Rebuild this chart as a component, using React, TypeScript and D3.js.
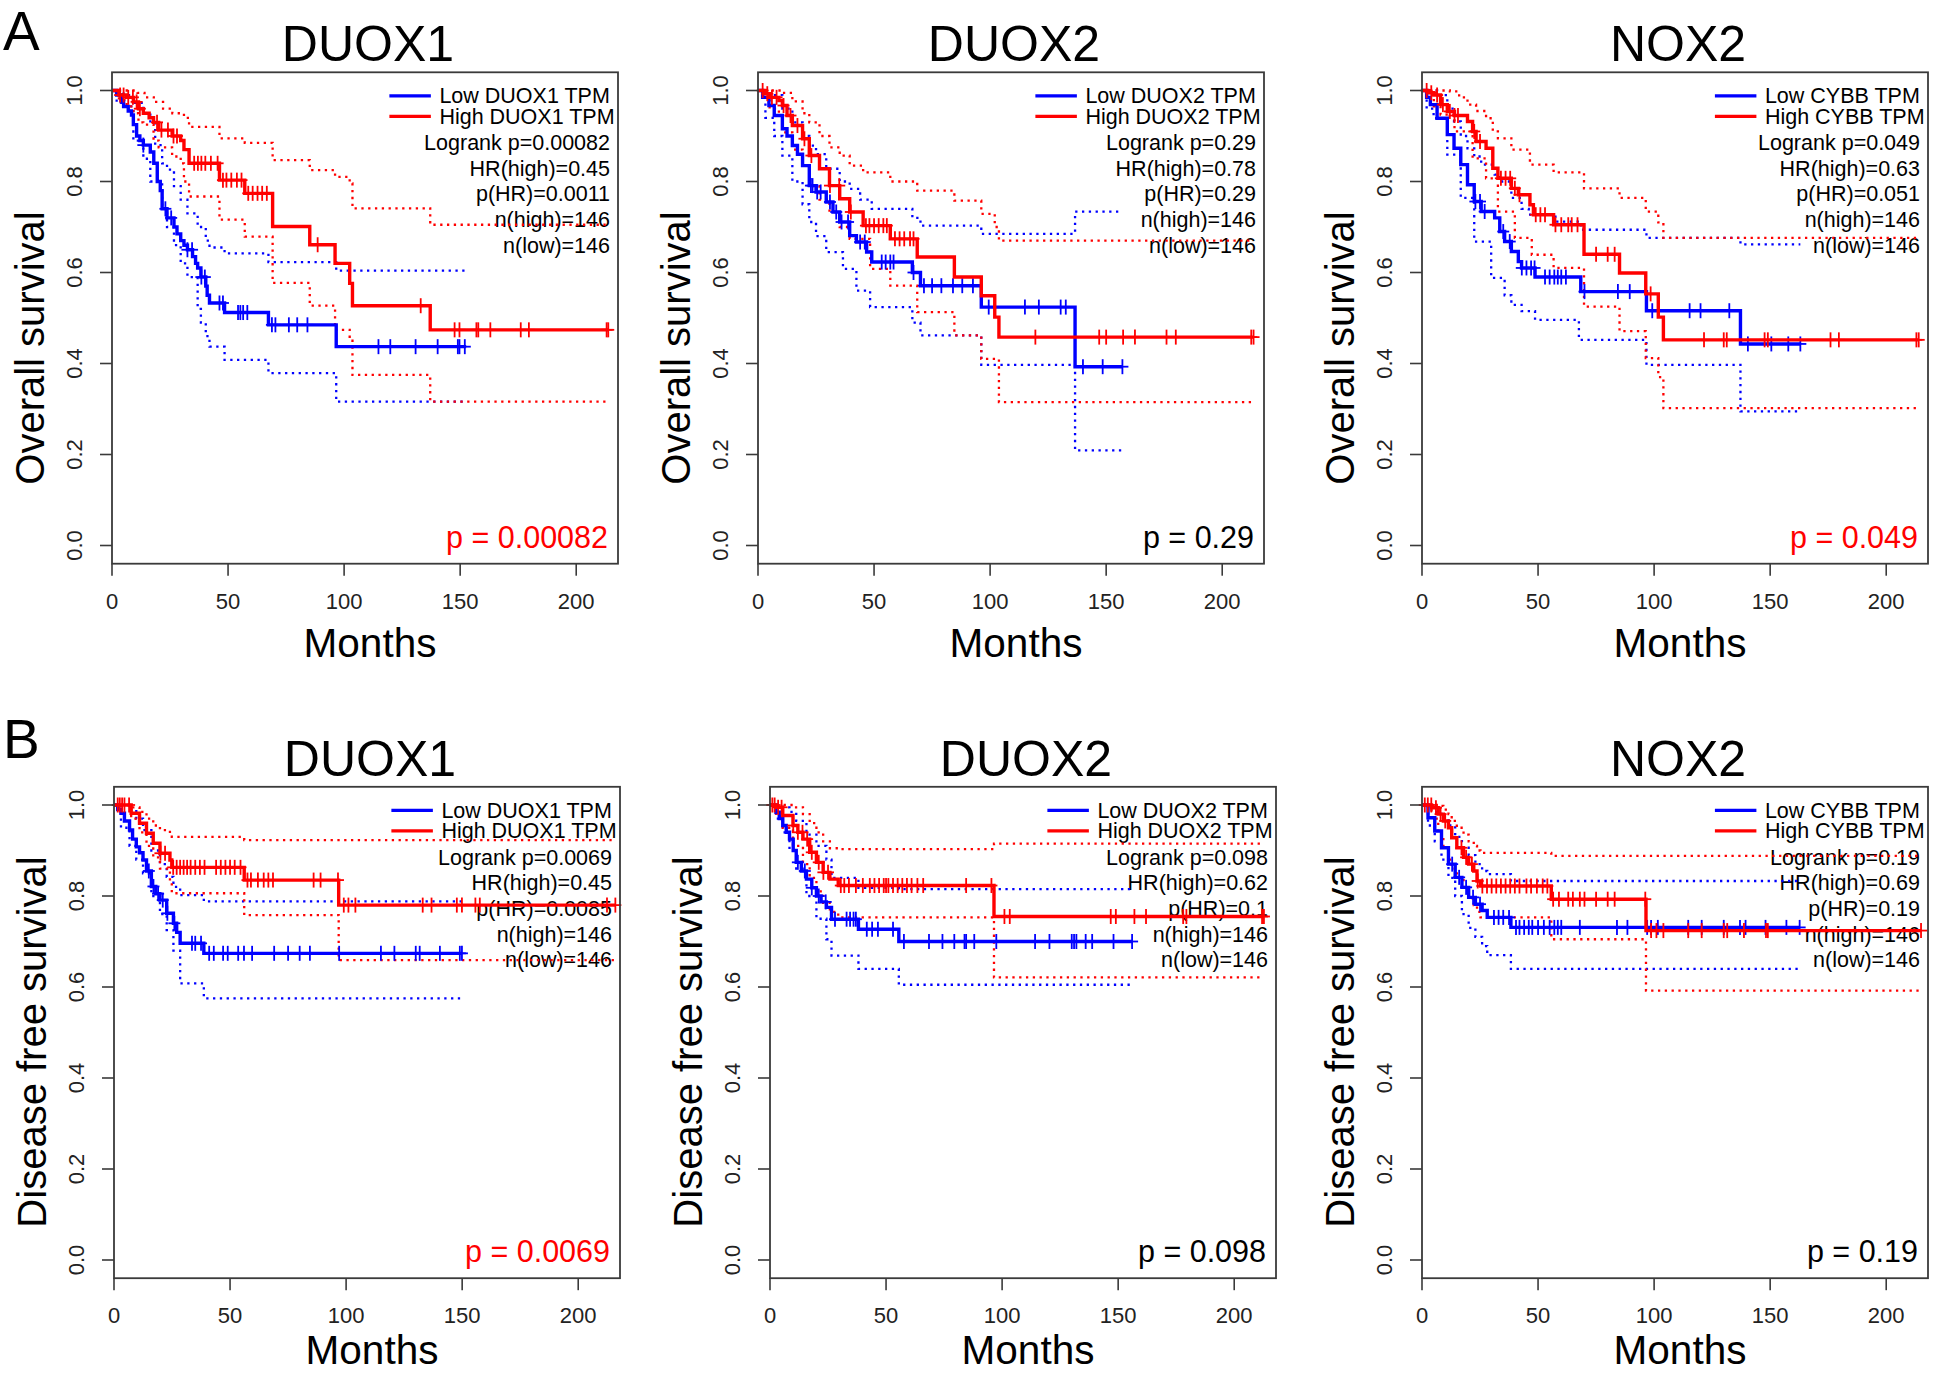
import React from 'react';
import * as d3 from 'd3';

type Pt = [number, number];

// ---------------- Data (months, survival) ----------------
// Panel A1: DUOX1 overall survival
const A1_low: Pt[] = [[0,1],[2,0.99],[4,0.975],[5,0.965],[7,0.955],[8.4,0.946],[9.2,0.925],[10.6,0.9],[12,0.89],[13.5,0.88],[16.5,0.865],[18,0.84],[19.5,0.8],[20.8,0.78],[21.6,0.74],[23.7,0.72],[26.7,0.7],[28,0.685],[29.6,0.67],[31,0.66],[32.5,0.65],[34.7,0.635],[36,0.62],[36.9,0.61],[38.3,0.59],[40.4,0.57],[41,0.55],[42,0.533],[48.5,0.512],[67.4,0.485],[96.6,0.437],[152.6,0.437]];
const A1_lowCens = [13.5,23,25.5,32.5,34.5,38.5,40,46.3,47.8,54.3,55.3,56.5,58.3,68.9,70.4,76.2,79.8,84.2,114.8,119.9,130.8,140.3,149,149.7,152];
const A1_lowUpper: Pt[] = [[0,1],[5,0.99],[9.2,0.973],[13.5,0.95],[16.5,0.928],[18.6,0.88],[21.6,0.84],[23.7,0.826],[26.7,0.79],[29.6,0.76],[32.5,0.73],[36.9,0.7],[40.4,0.67],[42,0.655],[48.5,0.642],[67.4,0.623],[96.6,0.604],[152.6,0.604]];
const A1_lowLower: Pt[] = [[0,1],[2,0.975],[4,0.965],[9.2,0.89],[13.5,0.85],[16.5,0.8],[21.6,0.74],[23.7,0.7],[26.7,0.66],[29.6,0.62],[32.5,0.59],[36.9,0.52],[38.3,0.49],[40.4,0.46],[42,0.437],[48.5,0.408],[67.4,0.379],[96.6,0.316],[152.6,0.316]];
const A1_high: Pt[] = [[0,1],[3,0.99],[6.3,0.985],[9.2,0.975],[11.4,0.96],[13.5,0.95],[16,0.94],[17.9,0.93],[20.1,0.913],[25.9,0.9],[29.6,0.89],[31,0.87],[33.2,0.84],[46.3,0.803],[57.2,0.774],[69.2,0.701],[85.2,0.661],[96.1,0.62],[102.4,0.576],[103.6,0.527],[137.1,0.474],[213.8,0.474]];
const A1_highCens = [3.5,5,7,9,10.6,12,19.4,21.3,24.1,26.5,28,35.4,37,38.5,40.2,42.6,45.5,47.8,49.3,51.4,53.8,55.8,58.7,60.6,62.7,64.7,66.7,88.6,133,147.6,149.7,157,157.8,163,176.1,179.6,213.1,213.8];
const A1_highUpper: Pt[] = [[0,1],[11,0.995],[14,0.985],[18,0.975],[22,0.96],[26,0.95],[31,0.94],[33.2,0.92],[46.3,0.895],[57.2,0.885],[69.2,0.847],[85.2,0.825],[96.1,0.81],[102.4,0.796],[103.6,0.741],[137.1,0.705],[213.8,0.705]];
const A1_highLower: Pt[] = [[0,1],[3,0.98],[6.3,0.965],[9.2,0.95],[11.4,0.93],[13.5,0.925],[17.9,0.89],[20.1,0.875],[25.9,0.855],[29.6,0.84],[31,0.8],[33.2,0.767],[46.3,0.716],[57.2,0.679],[69.2,0.577],[85.2,0.527],[96.1,0.474],[102.4,0.45],[103.6,0.375],[137.1,0.316],[213.8,0.316]];

// Panel A2: DUOX2 overall survival
const A2_low: Pt[] = [[0,1],[2,0.985],[4.7,0.967],[7,0.945],[10.5,0.916],[12.5,0.9],[14.8,0.879],[17,0.86],[19.2,0.835],[22.1,0.791],[25,0.777],[29.4,0.755],[32.3,0.733],[35.2,0.711],[39.5,0.681],[42.4,0.667],[46.8,0.645],[49,0.623],[66.5,0.6],[70,0.571],[96.2,0.524],[136.6,0.393],[157,0.393]];
const A2_lowCens = [22.8,23.5,25.5,27,31,33.7,36,38.8,44,46,53.3,55,57,58.4,67,71.5,75,79,84,88,92.6,99.4,115,121,130.4,132.6,140,148.5,157];
const A2_lowUpper: Pt[] = [[0,1],[4.7,0.99],[10.5,0.96],[14.8,0.93],[19.2,0.9],[22.1,0.879],[25,0.86],[29.4,0.828],[35.2,0.8],[39.5,0.784],[44,0.76],[49,0.74],[66.5,0.72],[70,0.703],[96.2,0.685],[136.6,0.734],[157,0.734]];
const A2_lowLower: Pt[] = [[0,1],[3.2,0.94],[7,0.9],[10.5,0.857],[14.8,0.8],[19.2,0.75],[22.1,0.711],[25,0.68],[29.4,0.645],[36.6,0.608],[42.4,0.56],[48.3,0.524],[66.5,0.49],[70,0.462],[96.2,0.397],[136.6,0.209],[157,0.209]];
const A2_high: Pt[] = [[0,1],[3,0.993],[5,0.985],[9,0.978],[10.5,0.967],[12.5,0.945],[14.8,0.923],[19.2,0.894],[22.1,0.857],[26.5,0.828],[30.8,0.791],[35.2,0.762],[39.5,0.733],[45.3,0.703],[57,0.674],[68.6,0.634],[84.6,0.59],[96.2,0.549],[102,0.502],[103.8,0.458],[213.5,0.458]];
const A2_highCens = [2,4,6,8,11,14,17,20,23,31,35,40,46.5,48,50,52,54,55.5,59,61,63,65.5,67,119.5,147,150,157.3,162.4,176,180,212.5,213.5];
const A2_highUpper: Pt[] = [[0,1],[10.5,0.995],[14.8,0.976],[19.2,0.95],[22.1,0.93],[26.5,0.9],[30.8,0.875],[35.2,0.857],[39.5,0.835],[45.3,0.82],[57,0.8],[68.6,0.78],[84.6,0.758],[96.2,0.729],[102,0.7],[103.8,0.67],[213.5,0.67]];
const A2_highLower: Pt[] = [[0,1],[5,0.96],[9,0.945],[10.5,0.908],[14.8,0.87],[19.2,0.835],[22.1,0.79],[26.5,0.76],[30.8,0.733],[35.2,0.7],[39.5,0.674],[48.3,0.608],[57,0.571],[68.6,0.513],[84.6,0.462],[96.2,0.41],[103.8,0.315],[213.5,0.315]];

// Panel A3: NOX2 (CYBB) overall survival
const A3_low: Pt[] = [[0,1],[2,0.985],[3.6,0.969],[6.5,0.939],[10.9,0.903],[13.8,0.873],[16.7,0.837],[19.6,0.793],[22.5,0.756],[25.5,0.734],[31.3,0.72],[33.5,0.69],[35.6,0.668],[38.5,0.646],[41.5,0.624],[42.9,0.61],[48.7,0.59],[68.4,0.558],[96.7,0.516],[137.2,0.443],[163,0.443]];
const A3_lowCens = [23,25,27,35,37.8,43,45,47,48.5,53,55,57,58.5,60,62,70,84.4,89.5,99.2,115.3,120,132.4,140.4,150.5,157.8,163];
const A3_lowUpper: Pt[] = [[0,1],[6.5,0.99],[10.9,0.96],[13.8,0.932],[16.7,0.9],[19.6,0.873],[22.5,0.855],[25.5,0.837],[31.3,0.815],[33.5,0.8],[38.5,0.764],[42.9,0.74],[46,0.727],[57.5,0.712],[68.4,0.694],[96.7,0.676],[137.2,0.662],[163,0.662]];
const A3_lowLower: Pt[] = [[0,1],[2,0.96],[5,0.939],[10.9,0.859],[16.7,0.764],[22.5,0.668],[29.8,0.588],[35.6,0.55],[38.5,0.529],[42.9,0.515],[48.7,0.496],[67.6,0.452],[96.7,0.397],[137.2,0.295],[163,0.295]];
const A3_high: Pt[] = [[0,1],[2.5,0.995],[5.1,0.99],[8,0.969],[10.9,0.954],[14,0.945],[19.6,0.932],[21.8,0.91],[23.3,0.888],[27.6,0.873],[30.5,0.829],[32.7,0.807],[38.5,0.785],[41.5,0.771],[46.5,0.749],[48,0.727],[56.7,0.705],[69.8,0.64],[85.1,0.599],[96.4,0.553],[101.8,0.502],[104,0.452],[214,0.452]];
const A3_highCens = [2,4,6.5,9,12,14,15.5,22.5,25,34,36,38,40,42,49,51,53,57.5,60,63,64.5,67,75,80,83,98.5,121.5,130,131.3,147.6,149,176,179.6,213,214];
const A3_highUpper: Pt[] = [[0,1],[12,0.998],[16,0.985],[19.6,0.969],[23.3,0.955],[27.6,0.939],[30.5,0.91],[32.7,0.895],[38.5,0.87],[46.5,0.837],[56.7,0.82],[69.8,0.785],[85.1,0.764],[96.4,0.734],[101.8,0.71],[104,0.676],[214,0.676]];
const A3_highLower: Pt[] = [[0,1],[5.1,0.965],[8,0.947],[14,0.91],[21.8,0.851],[27.6,0.807],[32.7,0.734],[40,0.676],[47.3,0.639],[56.7,0.61],[69.8,0.525],[85.1,0.471],[96.4,0.412],[101.8,0.37],[104,0.302],[214,0.302]];

// Panel B1: DUOX1 disease free survival
const B1_low: Pt[] = [[0,1],[1.6,0.99],[3,0.982],[4.5,0.965],[6.7,0.945],[8,0.925],[9.6,0.908],[11,0.895],[12.5,0.879],[14,0.855],[16.1,0.821],[18,0.805],[19.8,0.791],[22.7,0.762],[25.6,0.74],[27,0.72],[28.5,0.696],[38.7,0.674],[149.9,0.674]];
const B1_lowCens = [15,17,19,21,23,26,33.6,35,37.5,41,43,47,49,53.5,56,59.5,69,75,80,84.4,97,115,120.8,130,131.7,140.4,149,149.9];
const B1_lowUpper: Pt[] = [[0,1],[6.7,0.99],[9.6,0.97],[12.5,0.945],[16.1,0.9],[19.8,0.87],[22.7,0.842],[25.6,0.82],[28.5,0.802],[38.7,0.788],[149.9,0.788]];
const B1_lowLower: Pt[] = [[0,1],[3,0.95],[6.7,0.91],[9.6,0.88],[12.5,0.85],[16.1,0.8],[19.8,0.76],[22.7,0.725],[25.6,0.68],[28.5,0.608],[38.7,0.575],[149.9,0.575]];
const B1_high: Pt[] = [[0,1],[7.4,0.982],[11,0.96],[14,0.938],[16.9,0.916],[19.8,0.894],[24.1,0.879],[24.9,0.863],[56.1,0.835],[96.8,0.78],[216,0.78]];
const B1_highCens = [1.6,2.5,3.5,4.5,6.5,20,22,25.5,27,28.5,30,31.5,33,35,37,39,44,46,48,50,52,54.5,57.5,59,62,64.5,66.5,68.5,86,89,96.5,99,101,104,133,136.8,147.7,149.9,155.7,157.6,212.4,216];
const B1_highUpper: Pt[] = [[0,1],[7.4,0.995],[11,0.985],[14,0.97],[16.9,0.955],[19.8,0.945],[24.1,0.935],[24.9,0.93],[56.1,0.923],[216,0.923]];
const B1_highLower: Pt[] = [[0,1],[7.4,0.97],[11,0.94],[14,0.91],[16.9,0.885],[19.8,0.86],[24.1,0.83],[24.9,0.806],[56.1,0.758],[96.8,0.659],[216,0.659]];

// Panel B2: DUOX2 disease free survival
const B2_low: Pt[] = [[0,1],[2.6,0.984],[4,0.97],[5.5,0.955],[7,0.94],[8.4,0.925],[10,0.9],[11.3,0.874],[13.5,0.855],[15.7,0.837],[18,0.818],[20,0.8],[22,0.787],[24.3,0.775],[26.5,0.749],[38.1,0.727],[55.5,0.7],[156,0.7]];
const B2_lowCens = [12,15,18,21,24,28,33,34.5,36,37,41.7,44,46.5,53,57.7,68.5,74.3,79.4,83.8,84.5,88,97.5,114.2,120.4,130,131,132,136,138.8,148,156];
const B2_lowUpper: Pt[] = [[0,1],[5.5,0.995],[8.4,0.985],[11.3,0.965],[15.7,0.935],[20,0.91],[24.3,0.88],[26.5,0.84],[38.1,0.818],[55.5,0.815],[156,0.815]];
const B2_lowLower: Pt[] = [[0,1],[2.6,0.97],[5.5,0.94],[8.4,0.9],[11.3,0.86],[15.7,0.8],[20,0.75],[24.3,0.705],[26.5,0.669],[38.1,0.64],[55.5,0.605],[156,0.605]];
const B2_high: Pt[] = [[0,1],[2.6,0.995],[5.5,0.977],[9.9,0.955],[12,0.94],[14.2,0.925],[17.1,0.896],[20,0.874],[22.9,0.852],[25.8,0.837],[29.4,0.823],[96.5,0.755],[212.8,0.755]];
const B2_highCens = [1,2,3.5,5,10,12,14,16,18,21,23,25,30.5,32,34,37,40,43,45,47,49,50,51,53,55,57,59,61,63.5,66,84.5,95.4,101,103.3,146.8,149,157,162,178,179.4,212,212.8];
const B2_highUpper: Pt[] = [[0,1],[9.9,0.995],[14.2,0.98],[17.1,0.96],[20,0.94],[22.9,0.92],[25.8,0.905],[29.4,0.903],[96.5,0.915],[212.8,0.915]];
const B2_highLower: Pt[] = [[0,1],[2.6,0.975],[5.5,0.95],[9.9,0.91],[14.2,0.87],[17.1,0.84],[20,0.81],[22.9,0.785],[25.8,0.765],[29.4,0.753],[96.5,0.621],[212.8,0.621]];

// Panel B3: NOX2 (CYBB) disease free survival
const B3_low: Pt[] = [[0,1],[2.6,0.972],[5.5,0.943],[8.4,0.906],[11.4,0.87],[14.3,0.841],[17.2,0.819],[20.1,0.797],[23,0.782],[25.9,0.768],[28.1,0.753],[38.3,0.731],[162.7,0.731]];
const B3_lowCens = [13,16,19,22,25,31,33,35,37.5,40.5,42,44,46,47.5,50,52.5,55,57,58.5,60,68,84,88.5,97,98.7,101.6,114.7,120.5,130,137,139.4,148,157,162.7];
const B3_lowUpper: Pt[] = [[0,1],[2.6,0.995],[5.5,0.985],[8.4,0.97],[11.4,0.955],[14.3,0.93],[17.2,0.906],[20.1,0.89],[23,0.87],[25.9,0.855],[28.1,0.848],[38.3,0.833],[162.7,0.833]];
const B3_lowLower: Pt[] = [[0,1],[2.6,0.955],[5.5,0.92],[8.4,0.88],[11.4,0.84],[14.3,0.8],[17.2,0.76],[20.1,0.73],[23,0.71],[25.9,0.69],[28.1,0.67],[38.3,0.64],[162.7,0.64]];
const B3_high: Pt[] = [[0,1],[4.1,0.994],[7,0.98],[9.2,0.965],[11.4,0.95],[12.8,0.928],[15,0.906],[17.9,0.885],[20.1,0.87],[22.3,0.855],[23.7,0.833],[25.2,0.822],[55.7,0.793],[96.5,0.724],[215,0.724]];
const B3_highCens = [1.2,2.5,4,6,8,10,17,19,21.5,24,26,28,30,32,34,36,38,40,42,45,47,49.5,52,54,56.5,59,63,65,68,70,75,80,83,96.2,98.7,101,104,114.7,120.5,130,131.5,138.7,148.2,149,215];
const B3_highUpper: Pt[] = [[0,1],[7,0.998],[9.2,0.99],[11.4,0.98],[12.8,0.965],[15,0.95],[17.9,0.935],[20.1,0.92],[22.3,0.91],[23.7,0.9],[25.2,0.895],[55.7,0.888],[215,0.888]];
const B3_highLower: Pt[] = [[0,1],[4.1,0.97],[7,0.935],[9.2,0.91],[11.4,0.88],[12.8,0.86],[15,0.84],[17.9,0.815],[20.1,0.795],[22.3,0.78],[23.7,0.765],[25.2,0.753],[55.7,0.705],[96.5,0.592],[215,0.592]];

// ---------------- Text ----------------
const TITLES = ['DUOX1', 'DUOX2', 'NOX2', 'DUOX1', 'DUOX2', 'NOX2'];
const LEGEND_GENES = ['DUOX1', 'DUOX2', 'CYBB', 'DUOX1', 'DUOX2', 'CYBB'];
const LOGRANK = ['0.00082', '0.29', '0.049', '0.0069', '0.098', '0.19'];
const HR = ['0.45', '0.78', '0.63', '0.45', '0.62', '0.69'];
const P_HR = ['0.0011', '0.29', '0.051', '0.0085', '0.1', '0.19'];
const N_HIGH = [146, 146, 146, 146, 146, 146];
const N_LOW = [146, 146, 146, 146, 146, 146];
const P_SIGNIF = [true, false, true, true, false, false];
const Y_LABELS = ['Overall survival', 'Disease free survival'];
const ROW_LETTERS = ['A', 'B'];
const X_TICKS = [0, 50, 100, 150, 200];
const Y_TICKS = [0, 0.2, 0.4, 0.6, 0.8, 1.0];

const PANEL_DATA = [
  { low: A1_low, lowCens: A1_lowCens, lowU: A1_lowUpper, lowL: A1_lowLower, high: A1_high, highCens: A1_highCens, highU: A1_highUpper, highL: A1_highLower },
  { low: A2_low, lowCens: A2_lowCens, lowU: A2_lowUpper, lowL: A2_lowLower, high: A2_high, highCens: A2_highCens, highU: A2_highUpper, highL: A2_highLower },
  { low: A3_low, lowCens: A3_lowCens, lowU: A3_lowUpper, lowL: A3_lowLower, high: A3_high, highCens: A3_highCens, highU: A3_highUpper, highL: A3_highLower },
  { low: B1_low, lowCens: B1_lowCens, lowU: B1_lowUpper, lowL: B1_lowLower, high: B1_high, highCens: B1_highCens, highU: B1_highUpper, highL: B1_highLower },
  { low: B2_low, lowCens: B2_lowCens, lowU: B2_lowUpper, lowL: B2_lowLower, high: B2_high, highCens: B2_highCens, highU: B2_highUpper, highL: B2_highLower },
  { low: B3_low, lowCens: B3_lowCens, lowU: B3_lowUpper, lowL: B3_lowLower, high: B3_high, highCens: B3_highCens, highU: B3_highUpper, highL: B3_highLower },
];

// ---------------- Layout ----------------
const W = 1946;
const H = 1373;
const X_MAX = 218;
const PLOT_W = 506;
const COL_LEFT = [[112, 758, 1422], [114, 770, 1422]];
const ROW_Y = [{ y1: 90.5, y0: 545.5 }, { y1: 805, y0: 1260 }];
const YLABEL_CY = [348, 1042];
const MONTHS_OFF = [93, 86];
const FONT = '"Liberation Sans", Arial, Helvetica, sans-serif';
const RED = '#FF0000';
const BLUE = '#0000FF';

let measureCtx: CanvasRenderingContext2D | null = null;
function textWidth(s: string, size: number): number {
  if (!measureCtx && typeof document !== 'undefined') {
    measureCtx = document.createElement('canvas').getContext('2d');
  }
  if (!measureCtx) return s.length * size * 0.55;
  measureCtx.font = `${size}px "Liberation Sans", Arial, sans-serif`;
  return measureCtx.measureText(s).width;
}

function stepAt(curve: Pt[], t: number): number {
  let v = curve[0][1];
  for (const p of curve) {
    if (p[0] <= t) v = p[1];
    else break;
  }
  return v;
}

function Panel({ idx }: { idx: number }) {
  const row = Math.floor(idx / 3);
  const col = idx % 3;
  const left = COL_LEFT[row][col];
  const x = d3.scaleLinear().domain([0, X_MAX]).range([left, left + PLOT_W]);
  const y = d3.scaleLinear().domain([0, 1]).range([ROW_Y[row].y0, ROW_Y[row].y1]);
  const top = y(1.04);
  const bottom = y(-0.04);
  const right = left + PLOT_W;
  const cx = (left + right) / 2;
  const d = PANEL_DATA[idx];
  const line = d3.line<Pt>().x((p) => x(p[0])).y((p) => y(p[1])).curve(d3.curveStepAfter);

  const legLow = `Low ${LEGEND_GENES[idx]} TPM`;
  const legHigh = `High ${LEGEND_GENES[idx]} TPM`;
  const legW = Math.max(textWidth(legLow, 21.5), textWidth(legHigh, 21.5));
  const legX = right - 3 - legW;
  const stats = [
    `Logrank p=${LOGRANK[idx]}`,
    `HR(high)=${HR[idx]}`,
    `p(HR)=${P_HR[idx]}`,
    `n(high)=${N_HIGH[idx]}`,
    `n(low)=${N_LOW[idx]}`,
  ];
  const statOff = [78, 103.5, 129, 155, 180.5];

  const cens = (times: number[], curve: Pt[], color: string, key: string) =>
    times.map((t, i) => {
      const px = x(t);
      const py = y(stepAt(curve, t));
      return (
        <g key={key + i} stroke={color} strokeWidth={1.8}>
          <line x1={px} x2={px} y1={py - 7.5} y2={py + 7.5} />
          <line x1={px - 6} x2={px + 6} y1={py} y2={py} />
        </g>
      );
    });

  return (
    <g fontFamily={FONT}>
      <text x={cx + 3} y={top - 11} fontSize={50} textAnchor="middle" fill="#000">{TITLES[idx]}</text>
      {/* legend and statistics */}
      <line x1={legX - 50} x2={legX - 8.5} y1={top + 23.5} y2={top + 23.5} stroke={BLUE} strokeWidth={3.2} />
      <line x1={legX - 50} x2={legX - 8.5} y1={top + 44} y2={top + 44} stroke={RED} strokeWidth={3.2} />
      <text x={legX} y={top + 31} fontSize={21.5} fill="#000">{legLow}</text>
      <text x={legX} y={top + 51.5} fontSize={21.5} fill="#000">{legHigh}</text>
      {stats.map((s, i) => (
        <text key={s} x={right - 8} y={top + statOff[i]} fontSize={21.5} textAnchor="end" fill="#000">{s}</text>
      ))}
      <text x={right - 10} y={bottom - 16} fontSize={30.5} textAnchor="end" fill={P_SIGNIF[idx] ? RED : '#000'}>
        {`p = ${LOGRANK[idx]}`}
      </text>
      {/* confidence intervals */}
      <g fill="none" strokeWidth={2.3} strokeDasharray="2.3 4.5">
        <path d={line(d.lowU) || ''} stroke={BLUE} />
        <path d={line(d.lowL) || ''} stroke={BLUE} />
        <path d={line(d.highU) || ''} stroke={RED} />
        <path d={line(d.highL) || ''} stroke={RED} />
      </g>
      {/* survival curves */}
      <path d={line(d.low) || ''} fill="none" stroke={BLUE} strokeWidth={3.4} />
      {cens(d.lowCens, d.low, BLUE, 'l')}
      <path d={line(d.high) || ''} fill="none" stroke={RED} strokeWidth={3.4} />
      {cens(d.highCens, d.high, RED, 'h')}
      {/* box */}
      <rect x={left} y={top} width={PLOT_W} height={bottom - top} fill="none" stroke="#3a3a3a" strokeWidth={1.8} />
      {/* y axis */}
      {Y_TICKS.map((v) => (
        <g key={'y' + v}>
          <line x1={left - 12} x2={left} y1={y(v)} y2={y(v)} stroke="#3a3a3a" strokeWidth={1.6} />
          <text transform={`translate(${left - 30},${y(v)}) rotate(-90)`} fontSize={22} textAnchor="middle" fill="#222">
            {v.toFixed(1)}
          </text>
        </g>
      ))}
      {/* x axis */}
      {X_TICKS.map((v) => (
        <g key={'x' + v}>
          <line x1={x(v)} x2={x(v)} y1={bottom} y2={bottom + 12} stroke="#3a3a3a" strokeWidth={1.6} />
          <text x={x(v)} y={bottom + 45} fontSize={22} textAnchor="middle" fill="#222">{v}</text>
        </g>
      ))}
      <text x={cx + 5} y={bottom + MONTHS_OFF[row]} fontSize={40.5} textAnchor="middle" fill="#000">Months</text>
      <text
        transform={`translate(${left - 68},${YLABEL_CY[row]}) rotate(-90)`}
        fontSize={40}
        textAnchor="middle"
        fill="#000"
      >
        {Y_LABELS[row]}
      </text>
    </g>
  );
}

export default function App() {
  return (
    <svg
      width={W}
      height={H}
      viewBox={`0 0 ${W} ${H}`}
      style={{ position: 'absolute', left: 0, top: 0, background: '#fff' }}
    >
      <rect x={0} y={0} width={W} height={H} fill="#fff" />
      <text x={3} y={50} fontSize={55} fontFamily={FONT} fill="#000">{ROW_LETTERS[0]}</text>
      <text x={3} y={758} fontSize={55} fontFamily={FONT} fill="#000">{ROW_LETTERS[1]}</text>
      {PANEL_DATA.map((_, i) => (
        <Panel key={i} idx={i} />
      ))}
    </svg>
  );
}
